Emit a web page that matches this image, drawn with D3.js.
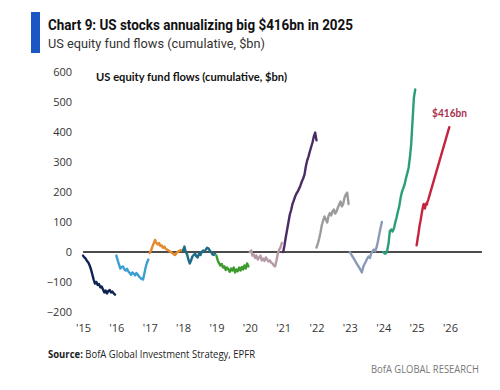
<!DOCTYPE html>
<html><head><meta charset="utf-8">
<script src="https://cdn.jsdelivr.net/npm/d3@7"></script>
<style>body{margin:0;background:#fff}</style>
</head><body><svg id="c" width="500" height="390"></svg>
<script>
// ---- data (US equity fund flows, cumulative $bn, reset each calendar year) ----
const years = [2015, 2016, 2017, 2018, 2019, 2020, 2021, 2022, 2023, 2024];
// bi-weekly-ish samples, step = 1/25 of a year
const flows2015 = [-12,-18,-22,-30,-35,-45,-58,-75,-92,-105,-100,-110,-107,-118,-115,-125,-135,-128,-138,-130,-127,-135,-132,-138,-142];
const flows2016 = [-12,-28,-42,-55,-50,-48,-58,-62,-56,-65,-70,-76,-68,-72,-78,-70,-75,-82,-86,-90,-92,-72,-50,-35,-25];
const flows2017 = [-3,5,18,28,40,30,25,30,20,22,14,18,10,8,5,2,0,-4,-8,-10,-4,0,3,6,5];
const flows2018 = [5,18,0,-8,-25,-38,-28,-15,-10,-5,-15,-18,-5,-10,0,5,2,8,14,12,5,0,-8,-10,-5];
const flows2019 = [-12,-28,-38,-45,-40,-52,-48,-60,-52,-58,-66,-55,-62,-52,-68,-58,-64,-52,-62,-50,-58,-45,-55,-38,-48];
const flows2020 = [0,5,-12,-8,-20,-12,-25,-18,-12,-28,-22,-30,-18,-25,-32,-28,-35,-38,-45,-48,-28,-5,8,15,30];
const flows2021 = [0,22,50,75,100,125,140,160,172,185,195,202,212,222,235,245,258,285,305,318,335,350,365,385,398,372];
const flows2022 = [15,28,45,65,90,105,118,108,98,120,130,122,135,142,128,135,148,158,168,152,160,182,192,198,160];
const flows2023 = [0,-8,-15,-22,-30,-38,-45,-52,-60,-68,-50,-40,-32,-22,-15,-20,-5,3,8,2,15,35,58,80,100];
const flows2024 = [0,-5,-5,5,30,70,75,68,78,98,115,135,152,180,200,212,225,245,262,280,315,362,440,515,542];
// 2025: weekly actuals, then annualized pace to year end
const flows2025 = [22,35,50,62,78,92,102,115,128,140,152,160,150,145,155,162,158,168,173];
const annualized2025 = 416;
const seriesColors = ["#0e2352","#3b9fd1","#e48a2d","#1e6b88","#3d9b2e","#b59aa8","#4a2b66","#9c9c9c","#8b9ab6","#2a9e7a"];
const color2025 = "#c4243d";
const xTickYears = [2015,2016,2017,2018,2019,2020,2021,2022,2023,2024,2025,2026];
const yTicks = [-200,-100,0,100,200,300,400,500,600];

const allFlows = [flows2015,flows2016,flows2017,flows2018,flows2019,flows2020,flows2021,flows2022,flows2023,flows2024];

const svg = d3.select("#c");
const x = d3.scaleLinear().domain([2015, 2027]).range([83, 483.3]);
const y = d3.scaleLinear().domain([-200, 600]).range([312, 72]);

// header
svg.append("rect").attr("x",31).attr("y",12).attr("width",9).attr("height",41).attr("fill","#1b57c4");
svg.append("text").attr("x",48).attr("y",29.5)
  .attr("font-family","Roboto").attr("font-weight","bold").attr("font-size",14.5).attr("fill","#111")
  .attr("textLength",305).attr("lengthAdjust","spacingAndGlyphs")
  .text("Chart 9: US stocks annualizing big $416bn in 2025");
svg.append("text").attr("x",48).attr("y",47.5)
  .attr("font-family","Roboto").attr("font-size",13).attr("fill","#333")
  .attr("textLength",217).attr("lengthAdjust","spacingAndGlyphs")
  .text("US equity fund flows (cumulative, $bn)");

// inner title
svg.append("text").attr("x",96).attr("y",80.7)
  .attr("font-family","Lato").attr("font-weight","bold").attr("font-size",10.5).attr("fill","#111")
  .attr("textLength",191).attr("lengthAdjust","spacingAndGlyphs")
  .text("US equity fund flows (cumulative, $bn)");

// axes
const yAxis = svg.append("g").attr("transform","translate(72,0)")
  .call(d3.axisLeft(y).tickValues(yTicks).tickSize(0).tickPadding(0).tickFormat(d3.format("d")));
yAxis.select(".domain").remove();
yAxis.selectAll("text").attr("font-family","Open Sans").attr("font-size",11).attr("fill","#333");

const xAxis = svg.append("g").attr("transform","translate(0,324)")
  .call(d3.axisBottom(x).tickValues(xTickYears).tickSize(0).tickPadding(0).tickFormat(d => "'" + String(d).slice(2)));
xAxis.select(".domain").remove();
xAxis.selectAll("text").attr("font-family","Open Sans").attr("font-size",11).attr("fill","#333");

// zero line
svg.append("line").attr("x1",x(2015)).attr("x2",x(2026.96)).attr("y1",y(0)).attr("y2",y(0))
  .attr("stroke","#111").attr("stroke-width",1.3);

// series
const line = d3.line().x(d => x(d[0])).y(d => y(d[1]));
allFlows.forEach((vals, k) => {
  const pts = vals.map((v, i) => [years[k] + i / 25, v]);
  svg.append("path").attr("d", line(pts)).attr("fill","none")
    .attr("stroke", seriesColors[k]).attr("stroke-width",2.4)
    .attr("stroke-linejoin","round").attr("stroke-linecap","round");
});
const pts25 = flows2025.map((v, i) => [2025 + i / 52, v]);
pts25.push([2025 + 51 / 52, annualized2025]);
svg.append("path").attr("d", line(pts25)).attr("fill","none")
  .attr("stroke", color2025).attr("stroke-width",2.4)
  .attr("stroke-linejoin","round").attr("stroke-linecap","round");

svg.append("text").attr("x",432).attr("y",117)
  .attr("font-family","Lato").attr("font-weight","bold").attr("font-size",11.5).attr("fill","#a8324f")
  .attr("textLength",35).attr("lengthAdjust","spacingAndGlyphs")
  .text("$" + annualized2025 + "bn");

// footer
const src = svg.append("text").attr("x",48).attr("y",358.3)
  .attr("font-family","Open Sans").attr("font-size",10.5).attr("fill","#222")
  .attr("textLength",207).attr("lengthAdjust","spacingAndGlyphs");
src.append("tspan").attr("font-weight","bold").text("Source:");
src.append("tspan").text(" BofA Global Investment Strategy, EPFR");
svg.append("text").attr("x",371).attr("y",373.3)
  .attr("font-family","Open Sans").attr("font-size",10.5).attr("fill","#777")
  .attr("textLength",108).attr("lengthAdjust","spacingAndGlyphs")
  .text("BofA GLOBAL RESEARCH");
</script></body></html>
